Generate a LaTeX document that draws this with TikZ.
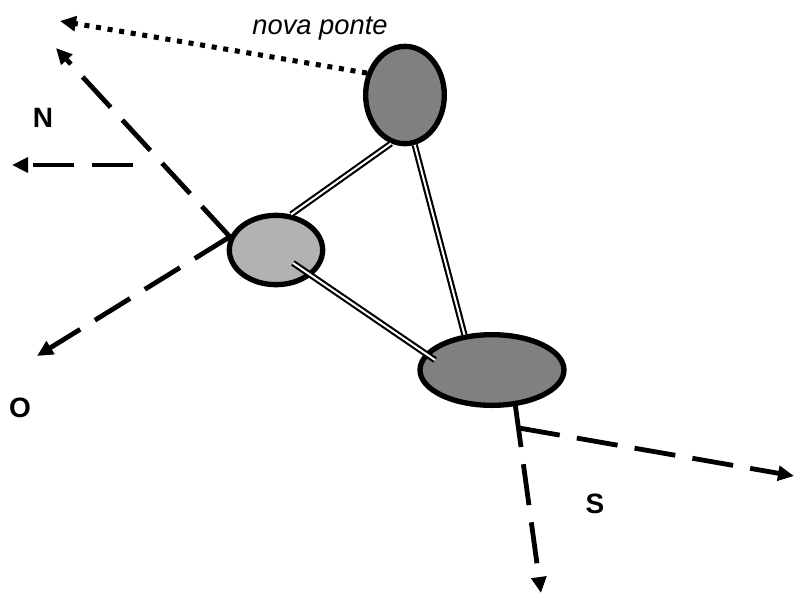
\documentclass[tikz,border=0pt]{standalone}
\usepackage{fontspec}
\setmainfont{Liberation Sans}
\usetikzlibrary{arrows.meta,shapes.geometric,calc}
\begin{document}
\begin{tikzpicture}[x=0.75pt,y=-0.75pt,
  site/.style={ellipse,draw=black,line width=4pt,inner sep=0pt},
  link/.style={draw=black,double=white,line width=1.6pt,double distance=1.5pt},
  route/.style={line width=3.6pt,dash pattern=on 31pt off 13pt,
    -{Triangle[length=12pt,width=11pt]}},
  newroute/.style={line width=3.8pt,dash pattern=on 3.8pt off 5pt,
    -{Triangle[length=12pt,width=11pt]}},
  lbl/.style={font=\fontsize{21}{25}\selectfont\bfseries,inner sep=0pt}]
\useasboundingbox (0,0) rectangle (794,594);

% the three sites
\node[site,fill=black!50,minimum width=59pt,minimum height=73pt] (e1) at (405,95) {};
\node[site,fill=black!30,minimum width=70pt,minimum height=52pt] (e2) at (276,250) {};
\node[site,fill=black!50,minimum width=108pt,minimum height=53pt] (e3) at (492,370) {};

% bridges between the sites
\coordinate (b2) at ($(e2)+(17,13)$);
\coordinate (b3) at ($(e3)+(-57,-10)$);
\draw[link] (e1.-106) -- (e2.67);
\draw[link] (e1.-79) -- (e3.128);
\draw[link] (b2) -- (b3);

% outgoing routes
\coordinate (nw) at (56,48);
\coordinate (sw) at (37,356);
\coordinate (nA) at (133,165);
\coordinate (nB) at (12,165);
\coordinate (sj) at (519,428);
\coordinate (st) at (541,593);
\coordinate (et) at (794,476);
\coordinate (np) at (60,21);
\draw[route] (e2.164) -- (nw);
\draw[route] (e2.164) -- (sw);
\draw[route,line width=3.2pt] (nA) -- (nB);
\draw[route] (e3.-57) -- (st);
\draw[route] (sj) -- (et);
\draw[newroute] (e1.150) -- (np);

% labels
\node[lbl] (lN) at (43,118) {N};
\node[lbl] (lO) at (20,408) {O};
\node[lbl] (lS) at (595,504) {S};
\node[font=\fontsize{20.5}{24}\selectfont\itshape,inner sep=0pt] (lnp) at (320,28) {nova ponte};
\end{tikzpicture}
\end{document}
